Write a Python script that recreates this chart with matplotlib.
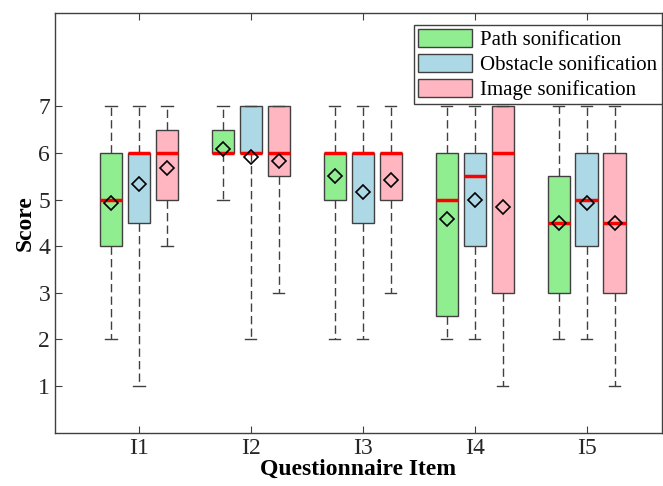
import matplotlib
matplotlib.use('Agg')
import matplotlib.pyplot as plt
from matplotlib.patches import Patch

plt.rcParams['font.family'] = ['Liberation Serif', 'DejaVu Serif']

items = ['I1', 'I2', 'I3', 'I4', 'I5']
methods = ['Path sonification', 'Obstacle sonification', 'Image sonification']
colors = ['#90EE90', '#ADD8E6', '#FFB6C1']

# per method, per item: whisker low, q1, median, q3, whisker high, mean
path_lo = [2, 5, 2, 2, 2]
path_q1 = [4, 6, 5, 2.5, 3]
path_med = [5, 6, 6, 5, 4.5]
path_q3 = [6, 6.5, 6, 6, 5.5]
path_hi = [7, 7, 7, 7, 7]
path_mean = [4.92, 6.08, 5.5, 4.58, 4.5]

obst_lo = [1, 2, 2, 2, 2]
obst_q1 = [4.5, 6, 4.5, 4, 4]
obst_med = [6, 6, 6, 5.5, 5]
obst_q3 = [6, 7, 6, 6, 6]
obst_hi = [7, 7, 7, 7, 7]
obst_mean = [5.33, 5.92, 5.17, 5.0, 4.92]

img_lo = [4, 3, 3, 1, 1]
img_q1 = [5, 5.5, 5, 3, 3]
img_med = [6, 6, 6, 6, 4.5]
img_q3 = [6.5, 7, 6, 7, 6]
img_hi = [7, 7, 7, 7, 7]
img_mean = [5.67, 5.83, 5.42, 4.83, 4.5]

groups = [
    (path_lo, path_q1, path_med, path_q3, path_hi, path_mean),
    (obst_lo, obst_q1, obst_med, obst_q3, obst_hi, obst_mean),
    (img_lo, img_q1, img_med, img_q3, img_hi, img_mean),
]

fig, ax = plt.subplots(figsize=(6.63, 4.86), dpi=100)
fig.subplots_adjust(left=0.083, right=0.998, top=0.973, bottom=0.11)

offsets = [-0.25, 0, 0.25]
for k, (lo, q1, med, q3, hi, mn) in enumerate(groups):
    stats = []
    for i in range(len(items)):
        stats.append(dict(whislo=lo[i], q1=q1[i], med=med[i], q3=q3[i],
                          whishi=hi[i], mean=mn[i], fliers=[]))
    pos = [i + 1 + offsets[k] for i in range(len(items))]
    bp = ax.bxp(stats, positions=pos, widths=0.2, patch_artist=True,
                showmeans=True, manage_ticks=False,
                boxprops=dict(facecolor=colors[k], edgecolor='#404040', linewidth=1),
                medianprops=dict(color='red', linewidth=2.5),
                whiskerprops=dict(color='#404040', linewidth=1, linestyle=(0, (6, 3))),
                capprops=dict(color='#404040', linewidth=1),
                capwidths=0.1,
                meanprops=dict(marker='D', markerfacecolor='none',
                               markeredgecolor='black', markersize=7,
                               markeredgewidth=1.2))
    for m in bp['means']:
        m.set_zorder(5)

ax.set_xlim(0.25, 5.67)
ax.set_ylim(0, 9)
ax.set_yticks([1, 2, 3, 4, 5, 6, 7])
ax.set_xticks(range(1, len(items) + 1))
ax.set_xticklabels(items)
ax.tick_params(axis='both', labelsize=17, colors='#404040', labelcolor='#262626',
               direction='in', length=5, top=True, right=False)
ax.tick_params(axis='x', pad=4)
for s in ax.spines.values():
    s.set_color('#404040')
    s.set_linewidth(1)

ax.set_xlabel('Questionnaire Item', fontsize=17, fontweight='bold', labelpad=0)
ax.set_ylabel('Score', fontsize=17, fontweight='bold', labelpad=2)

handles = [Patch(facecolor=c, edgecolor='#404040', label=m) for c, m in zip(colors, methods)]
leg = ax.legend(handles=handles, loc='upper right', fontsize=15, fancybox=False,
                framealpha=1, edgecolor='#404040', borderpad=0.2, labelspacing=0.2,
                handlelength=2.6, handleheight=0.9, handletextpad=0.4,
                borderaxespad=0, bbox_to_anchor=(1.0, 0.971))
leg.get_frame().set_linewidth(1)

plt.savefig('out.png', dpi=100)
